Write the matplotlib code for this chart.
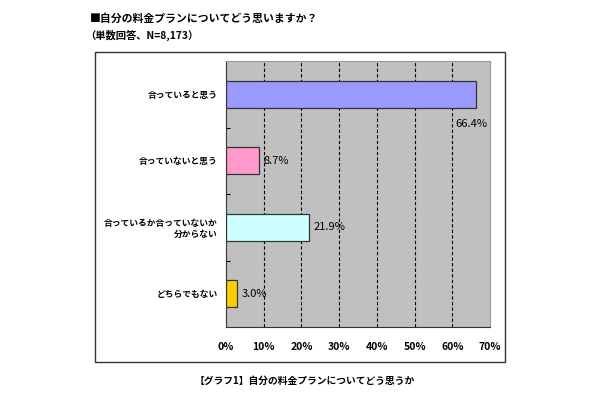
import matplotlib.pyplot as plt
from matplotlib.patches import Rectangle

plt.rcParams['font.family'] = ['Noto Sans CJK JP', 'DejaVu Sans']

# data
categories = ['合っていると思う', '合っていないと思う', '合っているか合っていないか\n分からない', 'どちらでもない']
values = [66.4, 8.7, 21.9, 3.0]
colors = ['#9999FF', '#FF99CC', '#CCFFFF', '#FFCC00']
xticks = [0, 10, 20, 30, 40, 50, 60, 70]

fig = plt.figure(figsize=(6.1, 4), dpi=100)

# outer chart frame
fig.patches.append(Rectangle((95 / 610, 1 - 362 / 400), (505 - 95) / 610, (362 - 52) / 400,
                             transform=fig.transFigure, fill=False, edgecolor='#333333', lw=1))

ax = fig.add_axes([226 / 610, 1 - 327 / 400, (490 - 226) / 610, (327 - 61) / 400])
ax.set_facecolor('#C0C0C0')

ypos = [0.5 + i for i in range(len(values))]
ax.barh(ypos, values, height=0.41, color=colors, edgecolor='#333333', lw=0.9, zorder=3)

for i, v in enumerate(values):
    if i == 0:
        ax.text(v - 1.3, ypos[i] + 0.45, f'{v:.1f}%', ha='center', va='center', fontsize=8, zorder=4)
    else:
        ax.text(v + 1.2, ypos[i], f'{v:.1f}%', ha='left', va='center', fontsize=8, zorder=4)

ax.set_xlim(0, 70)
ax.set_ylim(4, 0)
ax.set_xticks(xticks)
ax.set_xticklabels([f'{t}%' for t in xticks], fontsize=7.5, fontweight='bold')
ax.tick_params(axis='x', length=0, pad=11)
ax.set_yticks([1, 2, 3])
ax.set_yticklabels([])
ax.tick_params(axis='y', direction='in', length=3)
ax.set_yticks(ypos, minor=True)
ax.set_yticklabels(categories, minor=True, fontsize=6.3, fontweight='bold', ha='right', linespacing=1.3)
ax.tick_params(axis='y', which='minor', length=0, pad=6)

for t in xticks[1:-1]:
    ax.axvline(t, color='black', ls=(0, (3, 2)), lw=0.8, zorder=2)

for s in ['left', 'bottom']:
    ax.spines[s].set_color('#333333')
for s in ['top', 'right']:
    ax.spines[s].set_color('#999999')

fig.text(90 / 610, 1 - 19 / 400, '■自分の料金プランについてどう思いますか？', fontsize=7.8, fontweight='bold', va='center')
fig.text(85 / 610, 1 - 35 / 400, '（単数回答、N=8,173）', fontsize=7.4, fontweight='bold', va='center')
fig.text(305 / 610, 1 - 381 / 400, '【グラフ1】自分の料金プランについてどう思うか', fontsize=7, fontweight='bold',
         ha='center', va='center')

fig.savefig('out.png', dpi=100, facecolor='white')
